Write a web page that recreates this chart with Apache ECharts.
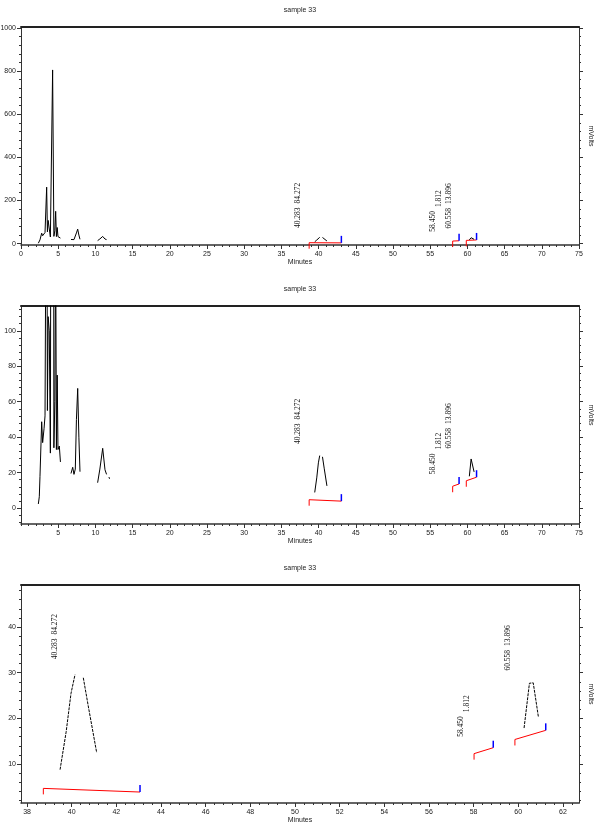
<!DOCTYPE html>
<html><head><meta charset="utf-8">
<script src="https://cdn.jsdelivr.net/npm/echarts@6/dist/echarts.min.js"></script>
<style>html,body{margin:0;padding:0;background:#fff}#c{width:600px;height:832px}</style>
</head><body><div id="c"></div>
<script>
// ---- data ----
const traceTimes = [2.33, 2.46, 2.55, 2.78, 2.91, 3.10, 3.23, 3.45, 3.55, 3.65, 3.80, 3.95, 4.25, 4.42, 4.55, 4.66, 4.76, 4.87, 4.97, 5.15, 5.30, 5.70,
  6.10, 6.16, 6.40, 6.72, 6.95, 7.12, 7.30, 7.45, 7.62, 7.78, 7.93, 9.00,
  10.30, 10.60, 10.98, 11.29, 11.50, 11.70, 11.82, 11.90, 20.0,
  39.48, 39.75, 39.97, 40.15, 40.35, 40.52, 40.75, 41.12, 50.0,
  60.26, 60.50, 60.67, 60.90];
const traceMv = [2.3, 6.4, 17.7, 48.7, 36.9, 45, 52, 262, 55, 108, 100, 31, 805, 34, 60, 150, 33, 75, 33, 35, 26, null,
  21.5, 21.3, null, 19.5, 23, 19, 22, 50, 67.5, 40, 20.5, null,
  14.3, 22, 33.7, 21.6, 19, null, 17.5, 16.5, null,
  8.8, 17, 25.5, 29.6, null, 28.9, 22.5, 12.5, null,
  17.9, 27.7, 27.8, 20.4];

const peakRT = [40.283, 58.450, 60.558];
const peakArea = ['84.272', '1.812', '13.896'];
const peakApex = [31.0, 14.0, 28.5];
const baseStartT = [38.73, 58.02, 59.85];
const baseStartV = [4.7, 12.3, 15.4];
const baseEndT = [43.06, 58.88, 61.23];
const baseEndV = [3.9, 13.6, 17.4];

const titleText = 'sample 33';
const xName = 'Minutes';
const yName = 'mVolts';
const p1XTicks = [0, 5, 10, 15, 20, 25, 30, 35, 40, 45, 50, 55, 60, 65, 70, 75];
const p1YTicks = [0, 200, 400, 600, 800, 1000];
const p2XTicks = [5, 10, 15, 20, 25, 30, 35, 40, 45, 50, 55, 60, 65, 70, 75];
const p2YTicks = [0, 20, 40, 60, 80, 100];
const p3XTicks = [38, 40, 42, 44, 46, 48, 50, 52, 54, 56, 58, 60, 62];
const p3YTicks = [10, 20, 30, 40];

// ---- layout ----
const panels = [
  {top: 27, xMin: 0, xMax: 75, yMin: -6, yMax: 1004, xT: p1XTicks, yT: p1YTicks, xStep: 1, yStep: 40},
  {top: 306, xMin: 0, xMax: 75, yMin: -9, yMax: 114, xT: p2XTicks, yT: p2YTicks, xStep: 1, yStep: 4},
  {top: 585, xMin: 37.73, xMax: 62.72, yMin: 1.5, yMax: 49.2, xT: p3XTicks, yT: p3YTicks, xStep: 0.4, yStep: 2}
];
const GH = 218;
const AX = '#333';
const LBL = {fontFamily: 'Liberation Sans', fontSize: 7, color: '#222'};

function minorVals(min, max, step) {
  const out = [];
  for (let v = Math.ceil(min / step) * step; v <= max + 1e-9; v += step) out.push(Math.round(v * 1000) / 1000);
  return out;
}

const traceData = traceTimes.map((t, i) => [t, traceMv[i] == null ? '-' : traceMv[i]]);
const baseData = baseStartT.map((t, i) => [t, baseStartV[i], baseEndT[i], baseEndV[i]]);
const labelData = peakRT.map((rt, i) => [rt, peakApex[i], i]);

const mctx = document.createElement('canvas').getContext('2d');
const LFONT = '7.5px "Liberation Serif"';
mctx.font = LFONT;

function line(show, color, width) {
  return {show: show, onZero: false, lineStyle: {color: color || AX, width: width || 1}};
}

const grid = [], xAxis = [], yAxis = [], series = [], title = [];
panels.forEach((p, k) => {
  const g0 = 4 * k;
  for (let j = 0; j < 4; j++) grid.push({left: 21, right: 21, top: p.top, height: GH, show: false,
    containLabel: false, outerBoundsMode: 'none'});
  title.push({text: titleText, left: 'center', top: p.top - 25,
    textStyle: {fontFamily: 'Liberation Sans', fontSize: 7, fontWeight: 'normal', color: '#222'}});
  const xm = minorVals(p.xMin, p.xMax, p.xStep);
  const ym = minorVals(p.yMin, p.yMax, p.yStep);
  const xb = {type: 'value', min: p.xMin, max: p.xMax, splitLine: {show: false}};
  const yb = {type: 'value', min: p.yMin, max: p.yMax, splitLine: {show: false}};
  // grid g0: main axes with labels
  xAxis.push(Object.assign({}, xb, {gridIndex: g0, position: 'bottom',
    axisLine: line(true, AX, 1.5),
    axisTick: {show: true, customValues: p.xT, length: 4, lineStyle: {color: AX}},
    axisLabel: Object.assign({customValues: p.xT, margin: 6, formatter: v => String(v)}, LBL),
    name: xName, nameLocation: 'middle', nameGap: 10, nameTextStyle: LBL}));
  yAxis.push(Object.assign({}, yb, {gridIndex: g0, position: 'left',
    axisLine: line(true, AX, 1),
    axisTick: {show: true, customValues: p.yT, length: 4, lineStyle: {color: AX}},
    axisLabel: Object.assign({customValues: p.yT, margin: 5, formatter: v => String(v)}, LBL)}));
  // grid g0+1: minor ticks bottom/left
  xAxis.push(Object.assign({}, xb, {gridIndex: g0 + 1, position: 'bottom',
    axisLine: line(false), axisTick: {show: true, customValues: xm, length: 2, lineStyle: {color: AX}},
    axisLabel: {show: false}}));
  yAxis.push(Object.assign({}, yb, {gridIndex: g0 + 1, position: 'left',
    axisLine: line(false), axisTick: {show: true, customValues: ym, length: 2, lineStyle: {color: AX}},
    axisLabel: {show: false}}));
  // grid g0+2: top border + right axis
  xAxis.push(Object.assign({}, xb, {gridIndex: g0 + 2, position: 'top',
    axisLine: line(true, '#222', 2), axisTick: {show: false}, axisLabel: {show: false}}));
  yAxis.push(Object.assign({}, yb, {gridIndex: g0 + 2, position: 'right',
    axisLine: line(true, AX, 1),
    axisTick: {show: true, customValues: p.yT, length: 4, lineStyle: {color: AX}},
    axisLabel: {show: false},
    name: yName, nameLocation: 'middle', nameRotate: -90, nameGap: 8, nameTextStyle: LBL}));
  // grid g0+3: right minor ticks
  xAxis.push(Object.assign({}, xb, {gridIndex: g0 + 3, position: 'top',
    axisLine: line(false), axisTick: {show: false}, axisLabel: {show: false}}));
  yAxis.push(Object.assign({}, yb, {gridIndex: g0 + 3, position: 'right',
    axisLine: line(false), axisTick: {show: true, customValues: ym, length: 2, lineStyle: {color: AX}},
    axisLabel: {show: false}}));

  series.push({type: 'line', xAxisIndex: g0, yAxisIndex: g0, data: traceData, symbol: 'none',
    connectNulls: false, clip: true, silent: true,
    lineStyle: {color: '#000', width: 1, type: k === 2 ? [3, 1] : 'solid'}});
  series.push({type: 'custom', xAxisIndex: g0, yAxisIndex: g0, data: baseData, silent: true, z: 3,
    renderItem: function (params, api) {
      const a = api.coord([api.value(0), api.value(1)]);
      const b = api.coord([api.value(2), api.value(3)]);
      return {type: 'group', children: [
        {type: 'line', shape: {x1: a[0], y1: a[1], x2: b[0], y2: b[1]}, style: {stroke: '#ff0000', lineWidth: 1}},
        {type: 'line', shape: {x1: a[0], y1: a[1], x2: a[0], y2: a[1] + 6}, style: {stroke: '#ff0000', lineWidth: 1}},
        {type: 'line', shape: {x1: b[0], y1: b[1], x2: b[0], y2: b[1] - 7}, style: {stroke: '#0000ff', lineWidth: 1.5}}
      ]};
    }});
  series.push({type: 'custom', xAxisIndex: g0, yAxisIndex: g0, data: labelData, silent: true, z: 4,
    renderItem: function (params, api) {
      const i = api.value(2);
      const c = api.coord([api.value(0), api.value(1)]);
      const rtTxt = peakRT[i].toFixed(3);
      const x = c[0] - 23, y = c[1] - 9;
      const w = mctx.measureText(rtTxt).width;
      const dx = (i === 1) ? 6 : 0;
      const st = (t) => ({text: t, fill: '#111', font: LFONT, fontFamily: 'Liberation Serif', fontSize: 7.5,
        align: 'left', verticalAlign: 'middle', textAlign: 'left', textVerticalAlign: 'middle'});
      return {type: 'group', children: [
        {type: 'text', x: x, y: y, rotation: Math.PI / 2, style: st(rtTxt)},
        {type: 'text', x: x + dx, y: y - w - 4, rotation: Math.PI / 2, style: st(peakArea[i])}
      ]};
    }});
});

const chart = echarts.init(document.getElementById('c'), null, {renderer: 'canvas'});
chart.setOption({
  animation: false,
  backgroundColor: '#fff',
  title: title,
  grid: grid,
  xAxis: xAxis,
  yAxis: yAxis,
  series: series
});
</script>
</body></html>
